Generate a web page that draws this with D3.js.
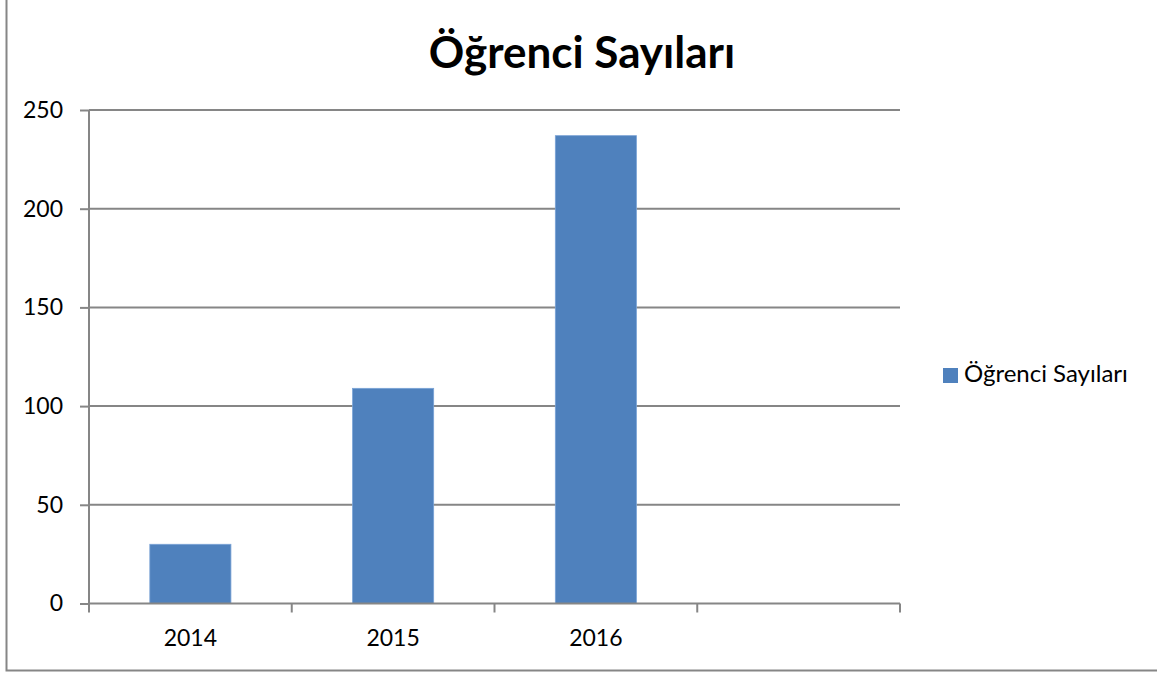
<!DOCTYPE html>
<html>
<head>
<meta charset="utf-8">
<script src="https://cdn.jsdelivr.net/npm/d3@7.9.0/dist/d3.min.js"></script>
<style>
  body { margin: 0; background: #fff; }
  svg { display: block; font-family: Lato, "Open Sans", sans-serif; }
</style>
</head>
<body>
<svg id="chart"></svg>
<script>
const title = "Öğrenci Sayıları";
const seriesName = "Öğrenci Sayıları";
const categories = ["2014", "2015", "2016", ""];
const values = [30, 109, 237, null];
const yTicks = [0, 50, 100, 150, 200, 250];

const width = 1157;
const height = 675;
const plot = { left: 89, right: 900, top: 110, bottom: 603.5 };

const svg = d3.select('#chart')
    .attr('width', width)
    .attr('height', height);

// outer chart border (top and right fall outside the picture)
svg.append('rect')
    .attr('x', 6.5).attr('y', -10)
    .attr('width', width + 20).attr('height', 680.5)
    .attr('fill', 'none')
    .attr('stroke', '#868686')
    .attr('stroke-width', 2);

const x = d3.scaleBand()
    .domain(d3.range(categories.length))
    .range([plot.left, plot.right])
    .padding(0);

const y = d3.scaleLinear()
    .domain([0, 250])
    .range([plot.bottom, plot.top]);

// gridlines + y ticks
const yAxis = svg.append('g')
    .attr('transform', `translate(${plot.left},0)`)
    .call(d3.axisLeft(y).tickValues(yTicks).tickSize(9).tickPadding(17));
yAxis.select('.domain').remove();
yAxis.selectAll('.tick line').attr('stroke', '#868686').attr('stroke-width', 2);
yAxis.selectAll('.tick text')
    .attr('fill', '#000')
    .style('font-size', '23px')
    .style('font-family', 'Lato, sans-serif');

svg.append('g')
    .selectAll('line')
    .data(yTicks.filter(d => d > 0))
    .join('line')
    .attr('x1', plot.left).attr('x2', plot.right)
    .attr('y1', d => y(d)).attr('y2', d => y(d))
    .attr('stroke', '#868686')
    .attr('stroke-width', 2);

// bars
const barW = x.bandwidth() * 0.4;
svg.append('g')
    .selectAll('rect')
    .data(values.map((v, i) => ({ v, i })).filter(d => d.v != null))
    .join('rect')
    .attr('x', d => x(d.i) + (x.bandwidth() - barW) / 2)
    .attr('y', d => y(d.v))
    .attr('width', barW)
    .attr('height', d => y(0) - y(d.v))
    .attr('fill', '#4f81bd')
    .attr('stroke', '#7aa3d6')
    .attr('stroke-width', 0.8);

// y axis line
svg.append('line')
    .attr('x1', plot.left).attr('x2', plot.left)
    .attr('y1', plot.top).attr('y2', plot.bottom)
    .attr('stroke', '#868686').attr('stroke-width', 2);

// x axis line and ticks between categories
svg.append('line')
    .attr('x1', plot.left).attr('x2', plot.right)
    .attr('y1', plot.bottom).attr('y2', plot.bottom)
    .attr('stroke', '#868686').attr('stroke-width', 2);

const boundaries = d3.range(categories.length + 1).map(i => plot.left + i * x.step());
svg.append('g')
    .selectAll('line')
    .data(boundaries)
    .join('line')
    .attr('x1', d => d).attr('x2', d => d)
    .attr('y1', plot.bottom).attr('y2', plot.bottom + 9)
    .attr('stroke', '#868686').attr('stroke-width', 2);

svg.append('g')
    .selectAll('text')
    .data(categories)
    .join('text')
    .attr('x', (d, i) => x(i) + x.bandwidth() / 2)
    .attr('y', 646)
    .attr('text-anchor', 'middle')
    .style('font-size', '23px')
    .text(d => d);

// title
svg.append('text')
    .attr('x', 582)
    .attr('y', 68)
    .attr('text-anchor', 'middle')
    .style('font-size', '44px')
    .style('font-weight', 'bold')
    .text(title);

// legend
const legend = svg.append('g').attr('transform', 'translate(943,368)');
legend.append('rect')
    .attr('width', 15).attr('height', 15)
    .attr('fill', '#4f81bd');
legend.append('text')
    .attr('x', 21).attr('y', 14)
    .style('font-size', '24px')
    .text(seriesName);
</script>
</body>
</html>
